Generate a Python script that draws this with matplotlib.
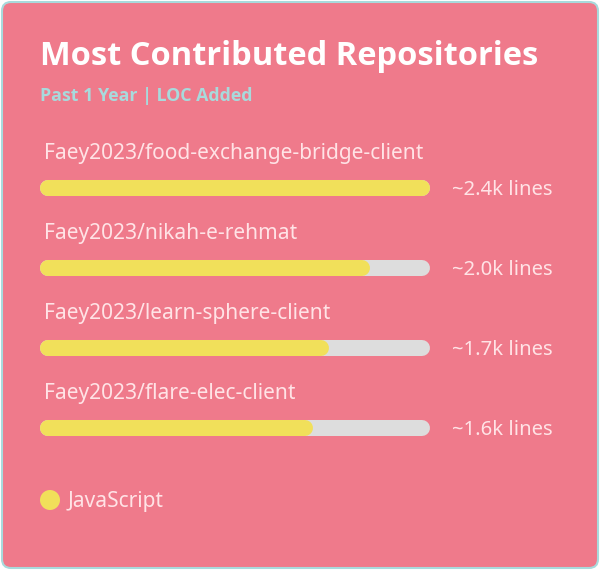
import matplotlib
matplotlib.use('Agg')
import matplotlib.pyplot as plt
from matplotlib.patches import FancyBboxPatch, Circle

# Data
repos = ['Faey2023/food-exchange-bridge-client',
         'Faey2023/nikah-e-rehmat',
         'Faey2023/learn-sphere-client',
         'Faey2023/flare-elec-client']
loc_added = [2400, 2030, 1780, 1680]
loc_labels = ['~2.4k lines', '~2.0k lines', '~1.7k lines', '~1.6k lines']
language = 'JavaScript'

# Colors
BG = '#EF7A8B'
BORDER = '#A8DADC'
TITLE_FG = '#FFFFFF'
SUB_FG = '#A8DADC'
TEXT_FG = '#FFE3E6'
BAR = '#F1E05A'
TRACK = '#DDDDDD'

W, H = 600, 570
fig = plt.figure(figsize=(W / 100, H / 100), dpi=100)
ax = fig.add_axes([0, 0, 1, 1])
ax.set_xlim(0, W)
ax.set_ylim(H, 0)
ax.axis('off')

FONT = ['Noto Sans', 'DejaVu Sans']
BOLD_FONT = ['Open Sans', 'Lato', 'DejaVu Sans']

ax.add_patch(FancyBboxPatch((2, 2), W - 4, H - 4, boxstyle='round,pad=0,rounding_size=9',
                            facecolor=BG, edgecolor=BORDER, lw=1.5))

renderer = fig.canvas.get_renderer()


def fit_text(x, y, s, width, size, family=FONT, **kw):
    """Draw text and scale its size so it spans about `width` pixels"""
    t = ax.text(x, y, s, fontsize=size, family=family, **kw)
    w = t.get_window_extent(renderer).width
    t.set_fontsize(size * width / w)
    return t


fit_text(40, 65, 'Most Contributed Repositories', 499, 24, family=BOLD_FONT,
         color=TITLE_FG, weight='bold', ha='left', va='baseline')
fit_text(40, 101, 'Past 1 Year | LOC Added', 213, 12, family=BOLD_FONT,
         color=SUB_FG, weight='bold', ha='left', va='baseline')

x0, track_w, bar_h = 40, 390, 16
r = bar_h / 2
lw = bar_h * 0.72
vmax = max(loc_added)
names, vals = [], []
for i, (name, val, lab) in enumerate(zip(repos, loc_added, loc_labels)):
    yc = 188 + 80 * i
    # name above bar
    names.append(ax.text(44, yc - 29, name, fontsize=13.5, family=FONT,
                         color=TEXT_FG, ha='left', va='baseline'))
    # track and bar with round caps
    ax.plot([x0 + r, x0 + track_w - r], [yc, yc], color=TRACK, lw=lw,
            solid_capstyle='round')
    x1 = x0 + track_w * val / vmax
    ax.plot([x0 + r, x1 - r], [yc, yc], color=BAR, lw=lw, solid_capstyle='round')
    vals.append(ax.text(452, yc + 7, lab, fontsize=13.5, family=FONT,
                        color=TEXT_FG, ha='left', va='baseline'))

# scale fonts so the first name / label match the reference widths
w0 = names[0].get_window_extent(renderer).width
for t in names:
    t.set_fontsize(13.5 * 379 / w0)
wv = vals[0].get_window_extent(renderer).width
for t in vals:
    t.set_fontsize(13.5 * 101 / wv)

# legend
ax.add_patch(Circle((50, 500), 10, facecolor=BAR, edgecolor='none'))
fit_text(68, 507, language, 96, 13.5, color=TEXT_FG, ha='left', va='baseline')

fig.savefig('out.png', dpi=100, facecolor='white')
